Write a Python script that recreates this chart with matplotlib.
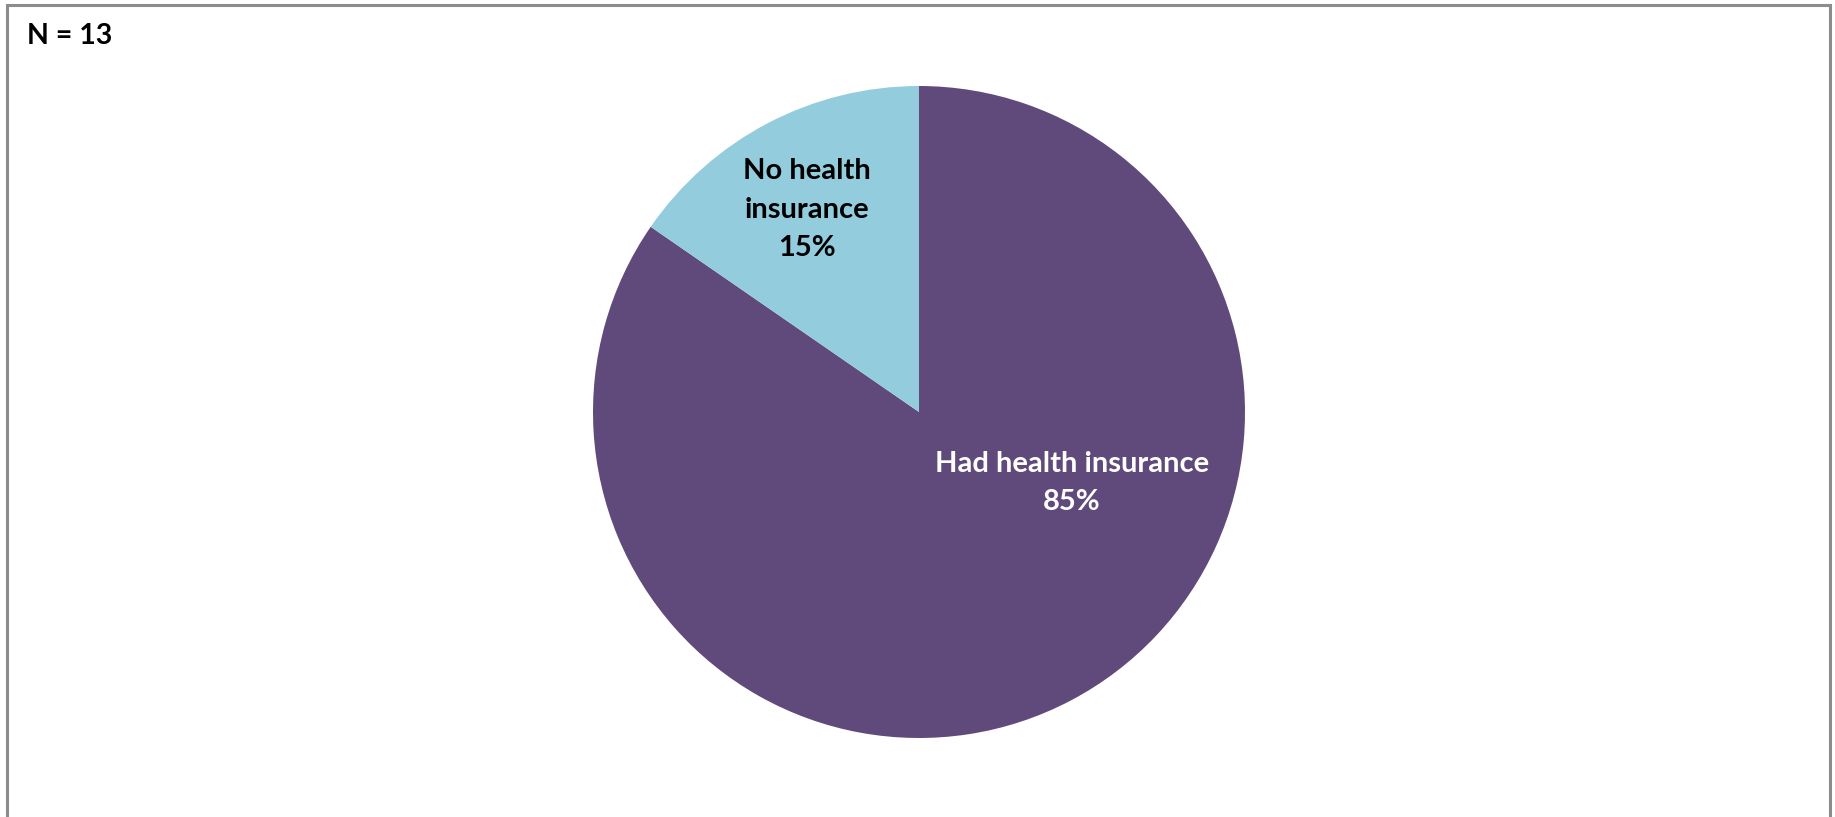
import matplotlib
matplotlib.use("Agg")
import matplotlib.pyplot as plt
from matplotlib.patches import Rectangle

plt.rcParams['font.family'] = ['Lato', 'DejaVu Sans']

categories = ['Had health insurance', 'No health insurance']
counts = [11, 2]
pct_labels = ['85%', '15%']
colors = ['#604a7b', '#93cddd']
n_total = sum(counts)

W, H = 1835, 817
fig = plt.figure(figsize=(W / 100, H / 100), dpi=100)

# pie centred at (919, 412) px with radius 326 px
cx, cy, r = 919, 412, 326
ax = fig.add_axes([(cx - r) / W, (H - cy - r) / H, 2 * r / W, 2 * r / H])
ax.pie(counts, colors=colors, startangle=90, counterclock=False,
       wedgeprops=dict(linewidth=0))
ax.set_xlim(-1, 1)
ax.set_ylim(-1, 1)
ax.set_aspect('equal')
ax.axis('off')

ax.text(0.469, -0.218, categories[0] + '\n' + pct_labels[0], ha='center', va='center',
        color='white', fontsize=21, fontweight='bold', linespacing=1.6)
ax.text(-0.344, 0.62, 'No health\ninsurance\n' + pct_labels[1], ha='center', va='center',
        color='black', fontsize=21, fontweight='bold', linespacing=1.6)

fig.text(27 / W, 1 - 36 / H, 'N = %d' % n_total, ha='left', va='center',
         fontsize=20.5, fontweight='bold', color='black')

# outer frame (bottom edge falls outside the image)
fig.patches.append(Rectangle((7 / W, -0.05), (1830 - 7) / W, 1.05 - 5 / H,
                             transform=fig.transFigure, fill=False,
                             edgecolor='#8c8c8c', linewidth=2.2))

fig.savefig('out.png', dpi=100)
